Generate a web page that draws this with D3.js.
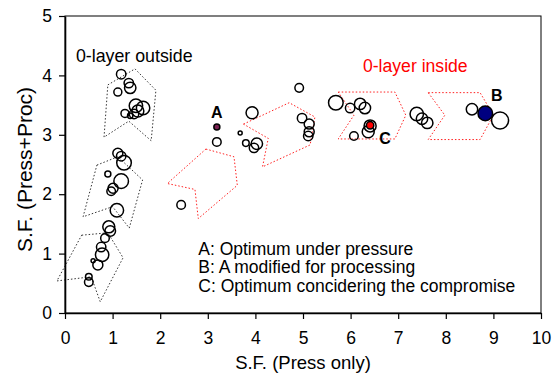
<!DOCTYPE html>
<html>
<head>
<meta charset="utf-8">
<script src="https://cdn.jsdelivr.net/npm/d3@7"></script>
<style>
  body { margin: 0; background: #fff; }
  svg { display: block; font-family: "Liberation Sans", Arial, sans-serif; }
</style>
</head>
<body>
<svg width="553" height="377"></svg>
<script>
// Design points: S.F. (Press only) vs S.F. (Press+Proc), bubble size = relative weight
var sfPress = [1.18, 1.34, 1.37, 1.11, 1.49, 1.64, 1.53, 1.26, 1.37, 1.45,
               1.11, 1.18, 1.24, 0.90, 1.18, 1.01, 0.97, 1.09,
               0.92, 0.95, 0.84, 0.76, 0.78, 0.59, 0.69, 0.50, 0.50,
               3.19, 2.44, 3.68, 3.93, 3.80, 4.03, 3.97,
               4.92, 4.98, 5.13, 5.13, 5.11,
               5.69, 5.99, 6.20, 6.30, 6.07, 6.41, 6.37,
               7.39, 7.50, 7.61, 8.55, 9.14];
var sfProc  = [4.02, 3.87, 3.79, 3.72, 3.49, 3.45, 3.40, 3.36, 3.32, 3.35,
               2.69, 2.64, 2.53, 2.34, 2.22, 2.10, 2.05, 1.73,
               1.45, 1.38, 1.26, 1.11, 0.98, 0.88, 0.81, 0.61, 0.52,
               2.88, 1.82, 3.03, 3.37, 2.86, 2.85, 2.78,
               3.79, 3.28, 3.18, 3.05, 2.98,
               3.54, 3.45, 3.52, 3.45, 2.98, 3.15, 3.05,
               3.35, 3.27, 3.20, 3.43, 3.24];
var weight  = [4.7, 4.7, 5.7, 4.0, 6.7, 6.7, 6.0, 4.0, 2.7, 4.7,
               5.0, 4.7, 7.3, 3.0, 7.3, 5.0, 4.3, 6.7,
               6.0, 5.3, 4.3, 4.7, 6.7, 2.0, 5.0, 3.3, 4.3,
               4.3, 4.3, 2.0, 6.0, 3.3, 5.7, 4.7,
               4.3, 4.7, 5.0, 5.0, 4.7,
               7.3, 4.7, 5.7, 5.7, 4.3, 6.0, 6.0,
               6.7, 5.7, 5.7, 5.7, 8.5];

// Highlighted optima
var optNames  = ["A", "B", "C"];
var optPress  = [3.19, 8.83, 6.41];
var optProc   = [3.13, 3.36, 3.16];
var optWeight = [3.0, 7.3, 3.7];
var optColors = ["#7b2152", "#000080", "#ff0000"];

// Dotted outlines (data coordinates)
var outsideShapes = [
  [[0.90,3.84],[1.47,4.11],[1.91,3.75],[1.81,2.90],[1.34,3.23],[0.82,2.96]],
  [[0.67,2.49],[1.11,2.63],[1.63,2.24],[1.35,1.43],[1.00,1.79],[0.38,1.62]],
  [[0.35,1.31],[0.90,1.35],[1.22,0.93],[0.74,0.19],[0.55,0.61],[-0.17,0.54]]
];
var insideShapes = [
  [[2.96,2.76],[3.55,2.63],[3.62,2.15],[2.80,1.59],[2.73,2.08],[2.15,2.18]],
  [[3.75,3.18],[4.71,3.54],[5.25,3.30],[5.15,2.83],[4.15,2.46],[4.27,2.94]],
  [[5.74,3.72],[6.93,3.72],[7.16,3.33],[6.93,2.93],[5.74,2.93],[6.07,3.33]],
  [[7.63,3.71],[8.72,3.71],[9.00,3.33],[8.72,2.92],[7.63,2.92],[7.98,3.33]]
];

var legendLines = ["A: Optimum under pressure",
                   "B: A modified for processing",
                   "C: Optimum concidering the compromise"];

var svg = d3.select("svg");
// plot box in pixels (avoid the name "top", it is window.top)
var padL = 65, padR = 541, padT = 16, padB = 313;

var x = d3.scaleLinear().domain([0, 10]).range([padL, padR]);
var y = d3.scaleLinear().domain([0, 5]).range([padB, padT]);
var r = d3.scaleLinear().domain([0, 10]).range([0, 10]);

// plot frame
svg.append("rect")
    .attr("x", padL).attr("y", padT)
    .attr("width", padR - padL).attr("height", padB - padT)
    .attr("fill", "none").attr("stroke", "#000").attr("stroke-width", 1);

var line = d3.line().x(function(d) { return x(d[0]); }).y(function(d) { return y(d[1]); })
    .curve(d3.curveLinearClosed);

svg.append("g").selectAll("path")
    .data(outsideShapes)
    .enter().append("path")
      .attr("d", line)
      .attr("fill", "none")
      .attr("stroke", "#333")
      .attr("stroke-width", 1)
      .attr("stroke-dasharray", "1.5,2");

svg.append("g").selectAll("path")
    .data(insideShapes)
    .enter().append("path")
      .attr("d", line)
      .attr("fill", "none")
      .attr("stroke", "#ff2020")
      .attr("stroke-width", 1)
      .attr("stroke-dasharray", "1.5,2");

// axes
var xAxis = svg.append("g")
    .attr("transform", "translate(0," + padB + ")")
    .call(d3.axisBottom(x).ticks(10).tickSize(6).tickPadding(13).tickSizeOuter(0));
var yAxis = svg.append("g")
    .attr("transform", "translate(" + padL + ",0)")
    .call(d3.axisLeft(y).ticks(5).tickSize(6).tickPadding(7).tickSizeOuter(0));

[xAxis, yAxis].forEach(function(a) {
  a.select(".domain").attr("stroke-width", 1.6);
  a.selectAll(".tick line").attr("stroke-width", 1.2);
  a.selectAll("text").attr("font-size", 17.5).attr("font-family", null).attr("fill", "#000");
});

svg.append("text")
    .attr("x", (padL + padR) / 2).attr("y", 369)
    .attr("text-anchor", "middle").attr("font-size", 18.5)
    .text("S.F. (Press only)");
svg.append("text")
    .attr("transform", "translate(32," + ((padT + padB) / 2 + 5) + ") rotate(-90)")
    .attr("text-anchor", "middle").attr("font-size", 21)
    .text("S.F. (Press+Proc)");

// bubbles
var pts = sfPress.map(function(d, i) { return {x: d, y: sfProc[i], w: weight[i]}; });
svg.append("g").selectAll("circle")
    .data(pts)
    .enter().append("circle")
      .attr("cx", function(d) { return x(d.x); })
      .attr("cy", function(d) { return y(d.y); })
      .attr("r", function(d) { return r(d.w); })
      .attr("fill", "none")
      .attr("stroke", "#000")
      .attr("stroke-width", 1.5);

var opts = optNames.map(function(n, i) {
  return {name: n, x: optPress[i], y: optProc[i], w: optWeight[i], c: optColors[i]};
});
svg.append("g").selectAll("circle")
    .data(opts)
    .enter().append("circle")
      .attr("cx", function(d) { return x(d.x); })
      .attr("cy", function(d) { return y(d.y); })
      .attr("r", function(d) { return r(d.w); })
      .attr("fill", function(d) { return d.c; })
      .attr("stroke", "#000")
      .attr("stroke-width", 1.5);

// point letters, offset from their marker
var letterOffset = {A: [0, -9.5], B: [11.5, -12], C: [15, 19]};
svg.append("g").selectAll("text")
    .data(opts)
    .enter().append("text")
      .attr("x", function(d) { return x(d.x) + letterOffset[d.name][0]; })
      .attr("y", function(d) { return y(d.y) + letterOffset[d.name][1]; })
      .attr("text-anchor", "middle")
      .attr("font-size", 16).attr("font-weight", "bold")
      .text(function(d) { return d.name; });

// region labels
svg.append("text")
    .attr("x", x(0.23)).attr("y", y(4.22))
    .attr("font-size", 17.8)
    .text("0-layer outside");
svg.append("text")
    .attr("x", x(6.26)).attr("y", y(4.05))
    .attr("font-size", 17.6).attr("fill", "#ff0000")
    .text("0-layer inside");

svg.append("g").selectAll("text")
    .data(legendLines)
    .enter().append("text")
      .attr("x", x(2.80))
      .attr("y", function(d, i) { return 255 + i * 18.3; })
      .attr("font-size", 17.5)
      .text(function(d) { return d; });
</script>
</body>
</html>
